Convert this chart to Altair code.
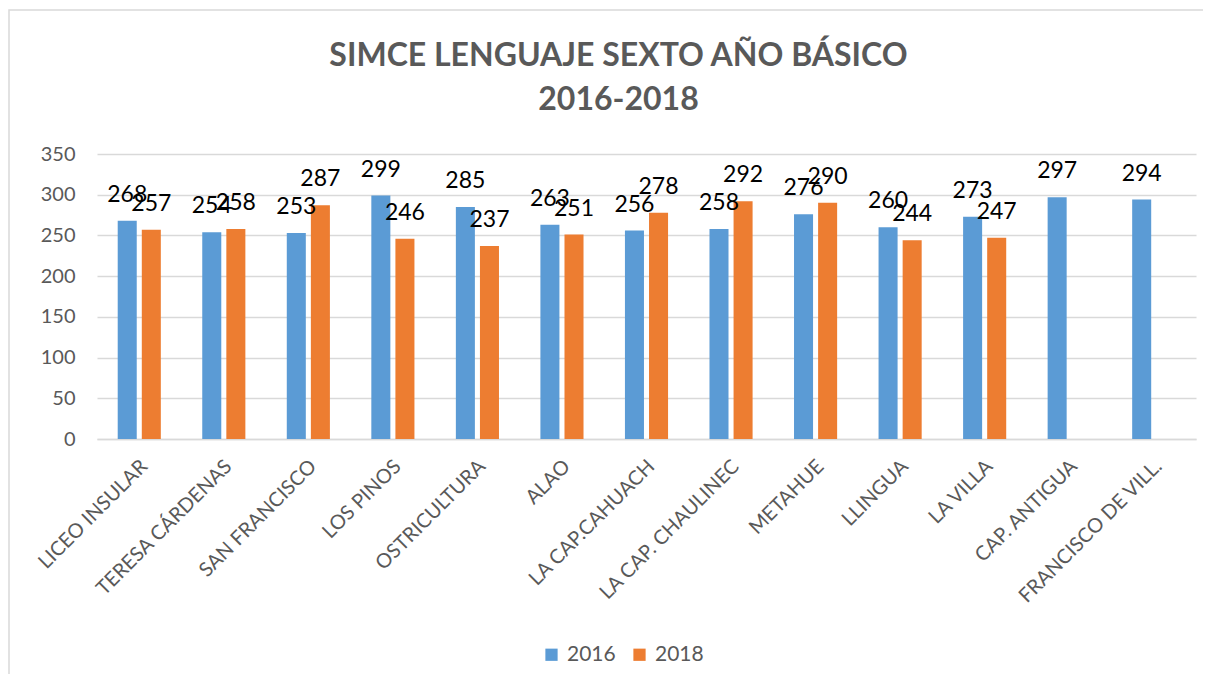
import altair as alt
import pandas as pd

schools = ["LICEO INSULAR", "TERESA CÁRDENAS", "SAN FRANCISCO", "LOS PINOS",
           "OSTRICULTURA", "ALAO", "LA CAP.CAHUACH", "LA CAP. CHAULINEC",
           "METAHUE", "LLINGUA", "LA VILLA", "CAP. ANTIGUA", "FRANCISCO DE VILL."]
v2016 = [268, 254, 253, 299, 285, 263, 256, 258, 276, 260, 273, 297, 294]
v2018 = [257, 258, 287, 246, 237, 251, 278, 292, 290, 244, 247, None, None]
years = ["2016", "2018"]
colors = ["#5B9BD5", "#ED7D31"]
y_ticks = [0, 50, 100, 150, 200, 250, 300, 350]

rows = []
for s, a, b in zip(schools, v2016, v2018):
    if a is not None:
        rows.append({"school": s, "year": "2016", "value": a})
    if b is not None:
        rows.append({"school": s, "year": "2018", "value": b})
df = pd.DataFrame(rows)

FONT = "Lato"
GRAY = "#595959"

base = alt.Chart(df).encode(
    x=alt.X("school:N", sort=schools, title=None,
            scale=alt.Scale(paddingInner=0.49, paddingOuter=0.245),
            axis=alt.Axis(labelAngle=-45, labelAlign="right", labelBaseline="middle",
                          labelFontSize=20, labelFont=FONT, labelColor=GRAY,
                          labelPadding=24, labelOffset=5, ticks=False,
                          domainColor="#D9D9D9", domainWidth=1.5, labelLimit=400)),
    xOffset=alt.XOffset("year:N", scale=alt.Scale(domain=years, paddingInner=0.21, paddingOuter=0)),
    y=alt.Y("value:Q", title=None, scale=alt.Scale(domain=[0, 350]),
            axis=alt.Axis(values=y_ticks, labelFontSize=20, labelFont=FONT,
                          labelColor=GRAY, labelPadding=22, ticks=False, domain=False,
                          gridColor="#D9D9D9", gridWidth=1.5)),
)

bars = base.mark_bar().encode(
    color=alt.Color("year:N", title=None,
                    scale=alt.Scale(domain=years, range=colors),
                    legend=alt.Legend(orient="none", legendX=444, legendY=490,
                                      direction="horizontal", symbolType="square",
                                      symbolSize=150, symbolStrokeWidth=0,
                                      labelFontSize=21, labelFont=FONT, labelColor=GRAY,
                                      columnPadding=13, labelOffset=5))
)

labels = base.mark_text(baseline="alphabetic", dy=-19, fontSize=23, font=FONT,
                        color="#000000").encode(text="value:Q")

border = alt.Chart(pd.DataFrame({"a": [0]})).mark_rect(
    fillOpacity=0, stroke="#D9D9D9", strokeWidth=1.5
).encode(x=alt.value(-88), x2=alt.value(1200), y=alt.value(-144), y2=alt.value(600))

chart = alt.layer(border, bars, labels).properties(
    width=1099, height=285,
    title=alt.TitleParams(["SIMCE LENGUAJE SEXTO AÑO BÁSICO", "2016-2018"],
                          fontSize=32, font=FONT, fontWeight="bold", color=GRAY,
                          anchor="middle", frame="group", offset=-108, lineHeight=44, dx=-28),
    autosize=alt.AutoSizeParams(type="none"),
    padding={"left": 89, "top": 146, "right": 7, "bottom": 235},
).configure_view(stroke=None)

chart.save("out.html", embed_options={"renderer": "svg", "actions": False})
